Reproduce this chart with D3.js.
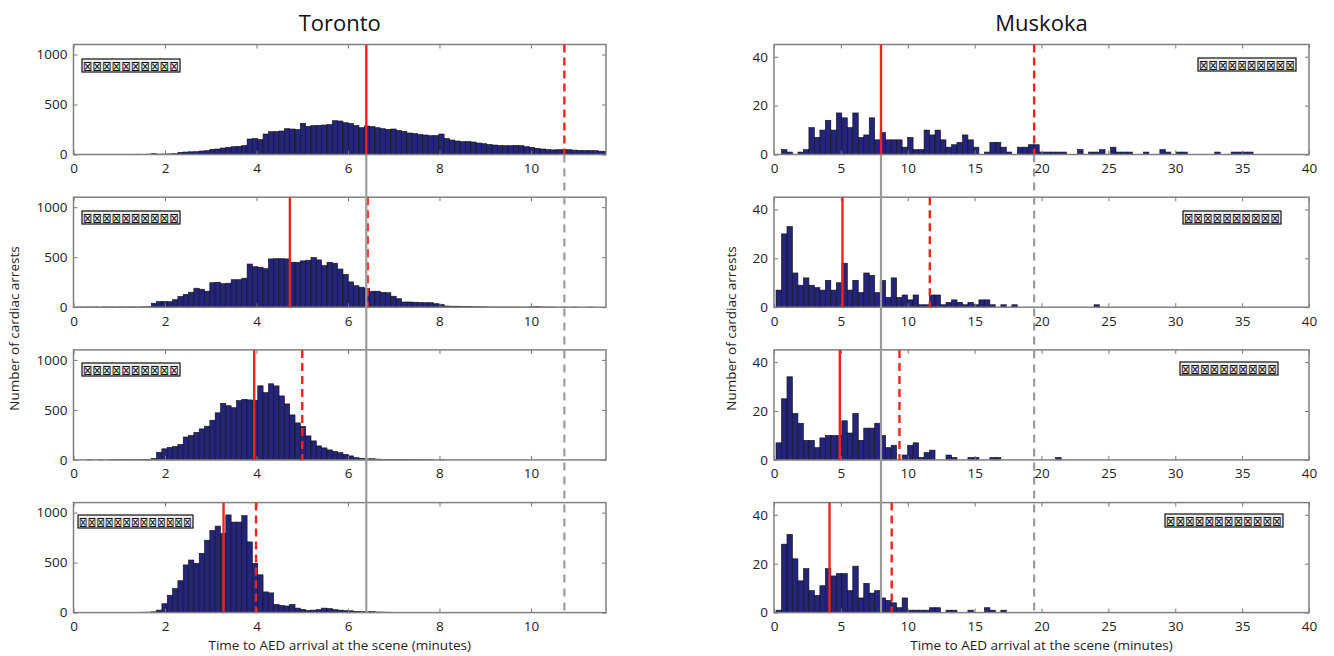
<!DOCTYPE html>
<html><head><meta charset="utf-8">
<script src="https://cdn.jsdelivr.net/npm/d3@7"></script>
<style>body{margin:0;background:#fff}svg{display:block}</style>
</head><body><svg id="c" width="1334" height="656"></svg>
<script>
// ---------------- DATA ----------------
// Toronto histograms: bins of 0.1164 min starting at 0.07 min
const torontoBinStart = 0.07, torontoBinWidth = 0.1164;
const torontoPanel1 = [0,1,0,1,1,0,1,2,1,2, 2,3,2,4,8,4,5,6,8,22, 25,27,28,35,38,52,55,65,72,78,
  82,90,155,160,150,205,228,230,235,258, 255,250,312,282,290,292,295,300,338,335,
  318,310,290,268,285,280,268,258,252,255, 240,232,215,210,200,195,188,190,205,160,
  145,135,128,130,125,115,108,100,95,90, 88,88,92,88,78,72,62,55,50,46,
  48,50,48,44,42,40,40,38,33,30];
const torontoPanel2 = [2,1,2,2,1,3,2,2,3,2, 3,2,3,4,40,57,57,55,75,108, 128,150,190,180,160,245,250,235,240,275,
  275,290,432,405,400,385,483,485,485,483, 450,449,463,470,497,473,416,449,440,382,
  328,253,215,200,186,160,160,148,145,110, 85,52,52,50,48,45,45,35,27,12,
  10,10,8,6,5,4,3,2,2,1, 1,2,1,1,1,3,5,2,1,1, 0,1,0,1,0,0,1,0,0,0];
const torontoPanel3 = [0,0,1,0,1,0,1,1,2,2, 3,2,3,3,15,77,111,125,135,155, 229,245,275,310,337,397,471,565,542,522,
  593,606,600,595,741,673,761,740,640,560, 450,370,335,240,190,140,120,100,85,72,
  55,40,22,15,10,12,8,6,5,4, 3,3,2,2,1,1,1,0,1,0, 0,0,0,0,0,0,0,0,0,0,
  0,0,0,0,0,0,0,0,0,0, 0,0,0,0,0,0,0,0,0,0];
const torontoPanel4 = [1,0,1,0,1,1,2,1,2,2, 3,3,4,5,8,25,89,174,240,319, 477,526,493,592,724,822,865,790,977,905,
  905,970,707,493,378,207,197,82,72,66, 82,45,33,23,25,30,45,40,30,25,
  20,18,12,10,8,10,6,5,4,3, 3,2,2,1,1,1,1,0,1,0, 0,0,0,0,0,0,0,0,0,0,
  0,0,0,0,0,0,0,0,0,0, 0,0,0,0,0,0,0,0,0,0];
// Muskoka histograms: bins of 0.41 min starting at 0.15 min
const muskokaBinStart = 0.15, muskokaBinWidth = 0.41;
const muskokaPanel1 = [0,2,1,0,1,2,11,7,10,14, 10,17,15,11,17,7,8,15,6,9, 6,6,6,3,7,2,2,10,8,10,
  6,3,4,5,8,6,3,0,1,5, 5,3,1,0,3,3,4,4,1,1, 1,1,1,0,0,2,0,1,1,2, 0,3,1,1,1,0,0,1,0,0,
  2,1,0,1,1,0,0,0,0,0, 1,0,0,1,1,1,1];
const muskokaPanel2 = [7,30,33,14,9,12,9,8,7,11, 7,10,18,7,11,6,14,13,6,11, 4,12,4,5,3,5,1,1,5,5,
  1,2,3,2,1,2,1,3,3,1, 0,1,0,1,0,0,0,0,0,0, 0,0,0,0,0,0,0,0,1];
const muskokaPanel3 = [7,25,34,19,15,8,8,5,9,10, 10,10,16,11,19,8,13,13,15,10, 5,6,0,2,6,7,1,3,4,0,
  0,2,1,0,0,1,1,0,0,1, 1,0,0,0,0,0,0,0,0,0, 0,1];
const muskokaPanel4 = [1,28,32,22,13,18,9,7,11,18, 15,16,16,9,19,6,12,8,9,6, 5,4,2,6,1,1,1,1,2,2,
  0,1,1,0,0,1,0,0,2,1, 0,1];
// Median (solid red) and 90th percentile (dashed red) per panel, minutes
const torontoMedian = [6.4, 4.73, 3.95, 3.28];
const torontoP90 = [10.73, 6.43, 5.0, 3.99];
const muskokaMedian = [8.0, 5.12, 4.92, 4.15];
const muskokaP90 = [19.45, 11.65, 9.38, 8.8];
// Reference (baseline) lines drawn in grey across panels
const torontoReference = [6.4, 10.73];
const muskokaReference = [8.0, 19.45];
// Axis ticks
const torontoXTicks = [0, 2, 4, 6, 8, 10];
const torontoYTicks = [0, 500, 1000];
const muskokaXTicks = [0, 5, 10, 15, 20, 25, 30, 35, 40];
const muskokaYTicks = [0, 20, 40];
const titles = ["Toronto", "Muskoka"];
const xAxisLabel = "Time to AED arrival at the scene (minutes)";
const yAxisLabel = "Number of cardiac arrests";
const legendGlyph = "\u22A0";
const torontoLegendCounts = [10, 10, 10, 13];
const muskokaLegendCounts = [10, 10, 10, 12];

// ---------------- LAYOUT ----------------
const panelTops = [44.5, 197.2, 349.9, 502.6];
const panelH = 110;
const FONT = "'Open Sans', 'Liberation Sans', sans-serif";
const columns = [
  { title: titles[0], left: 73.5, right: 606, xDomain: [0, 11.64], yDomain: [0, 1100],
    xTicks: torontoXTicks, yTicks: torontoYTicks,
    panels: [torontoPanel1, torontoPanel2, torontoPanel3, torontoPanel4],
    binStart: torontoBinStart, binWidth: torontoBinWidth,
    med: torontoMedian, p90: torontoP90, ref: torontoReference, ylabX: 19,
    legends: [[82,59,98],[82,211,98],[82,363,98],[78,515,115]], legendCounts: torontoLegendCounts },
  { title: titles[1], left: 774, right: 1309, xDomain: [0, 40], yDomain: [0, 45],
    xTicks: muskokaXTicks, yTicks: muskokaYTicks,
    panels: [muskokaPanel1, muskokaPanel2, muskokaPanel3, muskokaPanel4],
    binStart: muskokaBinStart, binWidth: muskokaBinWidth,
    med: muskokaMedian, p90: muskokaP90, ref: muskokaReference, ylabX: 736,
    legends: [[1198,58,98],[1183,211,98],[1180,362,98],[1165,514,118]], legendCounts: muskokaLegendCounts }
];

const svg = d3.select("#c");
const RED = "#f0241c", GREY = "#9b9b9b", BORDER = "#808080", BAR = "#23247a";

columns.forEach((col, ci) => {
  const x = d3.scaleLinear().domain(col.xDomain).range([col.left, col.right]);
  const clipId = "clip" + ci;
  svg.append("clipPath").attr("id", clipId).append("rect")
    .attr("x", col.left).attr("y", 0).attr("width", col.right - col.left).attr("height", 656);

  // title
  svg.append("text").attr("x", (col.left + col.right) / 2).attr("y", 31)
    .attr("text-anchor", "middle").style("font-family", FONT).style("font-size", "22px")
    .attr("fill", "#111").text(col.title);

  col.panels.forEach((vals, pi) => {
    const top = panelTops[pi], bottom = top + panelH;
    const y = d3.scaleLinear().domain(col.yDomain).range([bottom, top]);
    const g = svg.append("g");
    // bars
    g.append("g").attr("clip-path", `url(#${clipId})`)
      .selectAll("rect").data(vals.map((v, i) => ({ v, i })).filter(d => d.v > 0))
      .join("rect")
      .attr("x", d => x(col.binStart + d.i * col.binWidth))
      .attr("width", d => x(col.binStart + (d.i + 1) * col.binWidth) - x(col.binStart + d.i * col.binWidth))
      .attr("y", d => y(d.v))
      .attr("height", d => y(0) - y(d.v))
      .attr("fill", BAR).attr("stroke", "#111").attr("stroke-width", 0.6);

    // axes
    const styleAxis = (sel) => {
      sel.select(".domain").remove();
      sel.selectAll(".tick line").attr("stroke", "#777").attr("stroke-width", 1);
      sel.selectAll(".tick text").attr("fill", "#222").style("font-family", FONT).style("font-size", "13.5px");
    };
    g.append("g").attr("transform", `translate(0,${bottom})`)
      .call(d3.axisBottom(x).tickValues(col.xTicks).tickFormat(d3.format("d")).tickSizeInner(-4).tickSizeOuter(0).tickPadding(9))
      .call(styleAxis);
    g.append("g").attr("transform", `translate(0,${top})`)
      .call(d3.axisTop(x).tickValues(col.xTicks).tickSizeInner(-4).tickSizeOuter(0).tickFormat(""))
      .call(styleAxis);
    g.append("g").attr("transform", `translate(${col.left},0)`)
      .call(d3.axisLeft(y).tickValues(col.yTicks).tickFormat(d3.format("d")).tickSizeInner(-4).tickSizeOuter(0).tickPadding(6))
      .call(styleAxis);
    g.append("g").attr("transform", `translate(${col.right},0)`)
      .call(d3.axisRight(y).tickValues(col.yTicks).tickSizeInner(-4).tickSizeOuter(0).tickFormat(""))
      .call(styleAxis);

    // border
    g.append("rect").attr("x", col.left).attr("y", top)
      .attr("width", col.right - col.left).attr("height", panelH)
      .attr("fill", "none").attr("stroke", BORDER).attr("stroke-width", 1.5);

    // red lines
    g.append("line").attr("x1", x(col.med[pi])).attr("x2", x(col.med[pi]))
      .attr("y1", top).attr("y2", bottom).attr("stroke", RED).attr("stroke-width", 2.4);
    g.append("line").attr("x1", x(col.p90[pi])).attr("x2", x(col.p90[pi]))
      .attr("y1", top).attr("y2", bottom).attr("stroke", RED).attr("stroke-width", 2.4)
      .attr("stroke-dasharray", "8,5");

    // legend placeholder box
    const [lx, ly, lw] = col.legends[pi];
    const lg = g.append("g");
    lg.append("rect").attr("x", lx).attr("y", ly).attr("width", lw).attr("height", 13)
      .attr("fill", "#eee").attr("stroke", "#111").attr("stroke-width", 1.2);
    lg.append("text").attr("x", lx + 1).attr("y", ly + 11.5)
      .attr("textLength", lw - 2).attr("lengthAdjust", "spacingAndGlyphs")
      .style("font-family", "'DejaVu Sans', sans-serif").style("font-size", "14px")
      .attr("fill", "#111").text(legendGlyph.repeat(col.legendCounts[pi]));
  });

  // grey reference lines across panels
  const gy1 = panelTops[0] + panelH, gy2 = panelTops[3] + panelH;
  svg.append("line").attr("x1", x(col.ref[0])).attr("x2", x(col.ref[0]))
    .attr("y1", gy1).attr("y2", gy2).attr("stroke", GREY).attr("stroke-width", 2.2);
  svg.append("line").attr("x1", x(col.ref[1])).attr("x2", x(col.ref[1]))
    .attr("y1", gy1).attr("y2", gy2).attr("stroke", GREY).attr("stroke-width", 2.2)
    .attr("stroke-dasharray", "8,6");

  // axis labels
  svg.append("text").attr("x", (col.left + col.right) / 2).attr("y", 650)
    .attr("text-anchor", "middle").style("font-family", FONT).style("font-size", "13.5px")
    .attr("fill", "#222").text(xAxisLabel);
  svg.append("text").attr("transform", `translate(${col.ylabX},${(panelTops[0] + panelTops[3] + panelH) / 2}) rotate(-90)`)
    .attr("text-anchor", "middle").style("font-family", FONT).style("font-size", "13.5px")
    .attr("fill", "#222").text(yAxisLabel);
});
</script></body></html>
